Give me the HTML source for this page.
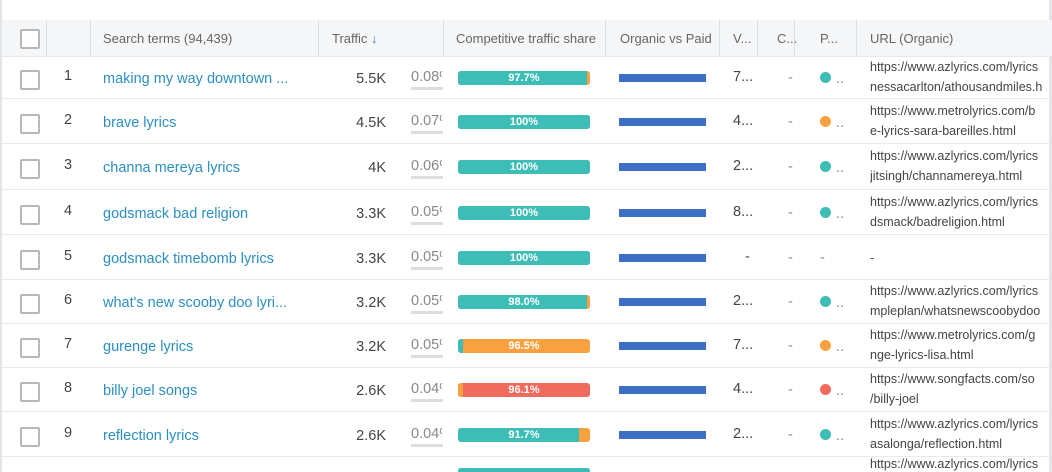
<!DOCTYPE html>
<html><head><meta charset="utf-8"><style>
html,body{margin:0;width:1052px;height:472px;overflow:hidden}
body{background:#fff;font-family:"Liberation Sans",sans-serif;position:relative}
.a{position:absolute;white-space:nowrap}
.hdr{position:absolute;left:2px;top:20px;width:1050px;height:36px;background:#f4f6f8;border-bottom:1px solid #e6e8eb}
.hc{position:absolute;top:31px;font-size:13px;color:#666}
.vl{position:absolute;top:20px;height:36px;width:1px;background:#dcdfe3}
.cb{position:absolute;width:16px;height:16px;border:2px solid #b8b8b8;border-radius:2px;background:#fff}
.row{position:absolute;left:2px;width:1050px;border-bottom:1px solid #e8eaed}
.t{font-size:14.5px;color:#444;line-height:18px}
.lnk{font-size:14.5px;color:#2b8fc2;line-height:18px}
.url{font-size:12.5px;color:#444;line-height:20px}
</style></head><body>
<div class="a" style="left:0;top:0;width:2px;height:472px;background:#e3e5e8"></div>
<div class="a" style="left:1049px;top:0;width:3px;height:472px;background:#e3e5e8"></div>
<div class="hdr"></div>
<div class="cb" style="left:20px;top:29px"></div>
<div class="vl" style="left:46px"></div><div class="vl" style="left:90px"></div><div class="vl" style="left:318px"></div><div class="vl" style="left:443px"></div><div class="vl" style="left:605px"></div><div class="vl" style="left:719px"></div><div class="vl" style="left:757px"></div><div class="vl" style="left:794px"></div><div class="vl" style="left:856px"></div>
<div class="hc" style="left:103px">Search terms (94,439)</div>
<div class="hc" style="left:332px">Traffic <span style="color:#4a7fd0">&#8595;</span></div>
<div class="hc" style="left:456px">Competitive traffic share</div>
<div class="hc" style="left:620px">Organic vs Paid</div>
<div class="hc" style="left:733px">V...</div>
<div class="hc" style="left:777px">C...</div>
<div class="hc" style="left:820px">P...</div>
<div class="hc" style="left:870px">URL (Organic)</div>
<div id="rows"></div>
<script>
const terms=["making my way downtown ...","brave lyrics","channa mereya lyrics","godsmack bad religion","godsmack timebomb lyrics","what's new scooby doo lyri...","gurenge lyrics","billy joel songs","reflection lyrics",""];
const traffic=["5.5K","4.5K","4K","3.3K","3.3K","3.2K","3.2K","2.6K","2.6K",""];
const shares=["0.08","0.07","0.06","0.05","0.05","0.05","0.05","0.04","0.04",""];
const shareLabels=["97.7%","100%","100%","100%","100%","98.0%","96.5%","96.1%","91.7%",""];
const seg1=[97.7,100,100,100,100,98.0,3.5,3.9,91.7,100];
const seg1Color=["#3dbdb6","#3dbdb6","#3dbdb6","#3dbdb6","#3dbdb6","#3dbdb6","#3dbdb6","#f9a040","#3dbdb6","#3dbdb6"];
const seg2Color=["#f9a040","#f9a040","#f9a040","#f9a040","#f9a040","#f9a040","#f9a040","#f06a5d","#f9a040","#f9a040"];
const vcol=["7...","4...","2...","8...","-","2...","7...","4...","2...",""];
const dots=["#3dbdb6","#f9a040","#3dbdb6","#3dbdb6","","#3dbdb6","#f9a040","#f06a5d","#3dbdb6",""];
const url1=["https://www.azlyrics.com/lyrics","https://www.metrolyrics.com/b","https://www.azlyrics.com/lyrics","https://www.azlyrics.com/lyrics","-","https://www.azlyrics.com/lyrics","https://www.metrolyrics.com/g","https://www.songfacts.com/so","https://www.azlyrics.com/lyrics","https://www.azlyrics.com/lyrics"];
const url2=["nessacarlton/athousandmiles.h","e-lyrics-sara-bareilles.html","jitsingh/channamereya.html","dsmack/badreligion.html","","mpleplan/whatsnewscoobydoo","nge-lyrics-lisa.html","/billy-joel","asalonga/reflection.html",""];
const rowTops=[56,99,144,190,235,280,324,368,412,457];
const R=document.getElementById('rows');
function add(html,name,inter){const d=document.createElement('div');d.className='a';d.innerHTML=html;


R.appendChild(d);return d;}
const barX=458,barW=132;
for(let i=0;i<terms.length;i++){
 const top=rowTops[i],bot=i<9?rowTops[i+1]:493,cy=(top+bot)/2;
 const rw=document.createElement('div');rw.className='row';rw.style.top=top+'px';rw.style.height=(Math.min(bot,472)-top-1)+'px';
 if(i==9)rw.style.borderBottom='none';
 
 
 R.appendChild(rw);
 if(i<9){
 let c=add('','row-checkbox','true');c.className='cb';c.style.left='20px';c.style.top=(cy-8)+'px';
 let n=add(String(i+1),'row-number','false');n.classList.add('t');n.style.left='64px';n.style.top=(cy-11)+'px';
 let s=add(terms[i],'search-term-link','true');s.classList.add('lnk');s.style.left='103px';s.style.top=(cy-8)+'px';
 let tr=add(traffic[i],'traffic-value','false');tr.classList.add('t');tr.style.right=(1052-386)+'px';tr.style.top=(cy-8)+'px';
 let sh=add(shares[i]+'<span style="display:inline-block;width:3px;overflow:hidden;vertical-align:top">%</span>','traffic-share','false');sh.classList.add('t');sh.style.color='#888';sh.style.left='411px';sh.style.top=(cy-10)+'px';
 let ul=add('','share-underline','false');ul.style.cssText+=`left:411px;top:${cy+9}px;width:32px;height:3px;background:#ddd`;
 let vv=add(vcol[i],'volume-value','false');vv.classList.add('t');vv.style.left=(vcol[i]=='-'?745:733)+'px';vv.style.top=(cy-10)+'px';
 let cc=add('-','cpc-value','false');cc.classList.add('t');cc.style.color='#888';cc.style.left='788px';cc.style.top=(cy-9)+'px';
 if(dots[i]){let dt=add('','position-dot','false');dt.style.cssText+=`left:820px;top:${cy-6}px;width:11px;height:11px;border-radius:50%;background:${dots[i]}`;
 let dd=add('..','position-more','false');dd.classList.add('t');dd.style.color='#888';dd.style.left='836px';dd.style.top=(cy-8)+'px';}
 else{let dd=add('-','position-value','false');dd.classList.add('t');dd.style.color='#888';dd.style.left='820px';dd.style.top=(cy-9)+'px';}
 let ob=add('','organic-bar','false');ob.style.cssText+=`left:619px;top:${cy-4}px;width:87px;height:8px;background:#3f6fc4`;
 }
 let u=add(url1[i]+(url2[i]?'<br>'+url2[i]:''),'organic-url','true');u.classList.add('url');u.style.left='870px';u.style.top=(url1[i]=='-'?cy-10:cy-21)+'px';u.style.width='180px';u.style.overflow='hidden';
 const bar=add('','competitive-share-bar','false');bar.style.cssText+=`left:${barX}px;top:${cy-7}px;width:${barW}px;height:14px;border-radius:3px;overflow:hidden;background:${seg2Color[i]}`;
 const s1=document.createElement('div');
 s1.style.cssText=`position:absolute;left:0;top:0;height:14px;width:${seg1[i]/100*barW}px;background:${seg1Color[i]}`;bar.appendChild(s1);
 const lb=document.createElement('div');
 lb.textContent=shareLabels[i];lb.style.cssText='position:absolute;left:0;width:100%;top:0;line-height:14px;text-align:center;color:#fff;font-size:11px;font-weight:bold';bar.appendChild(lb);
}
</script>
</body></html>
